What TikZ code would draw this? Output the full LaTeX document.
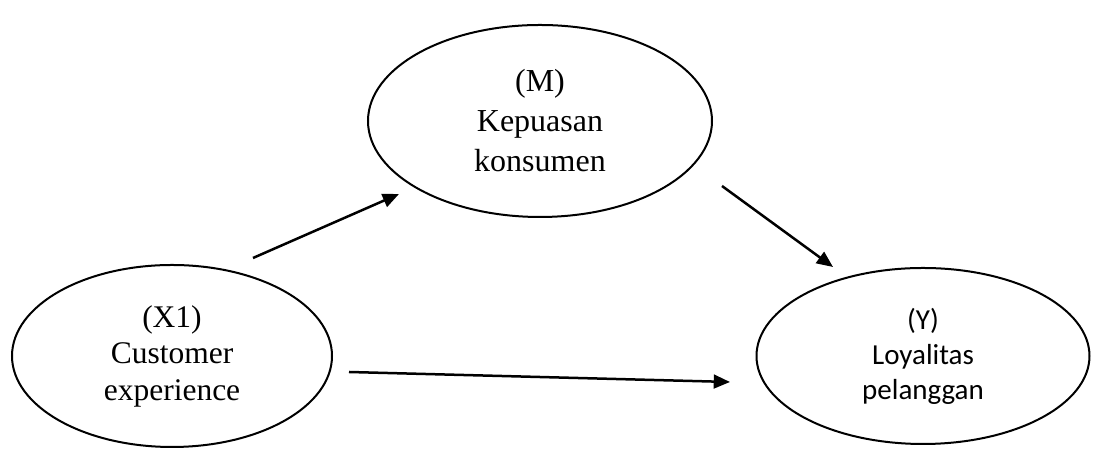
\documentclass[tikz,border=0pt]{standalone}
\usepackage{fontspec}
\setmainfont{Liberation Serif}
\newfontfamily\calib{Carlito}
\usetikzlibrary{shapes.geometric,arrows.meta}
\tikzset{
  var/.style={draw, ellipse, line width=0.8pt, inner sep=0pt, align=center},
  link/.style={line width=1pt, -{Triangle[length=6.5pt,width=5.5pt]}}
}
\begin{document}
\begin{tikzpicture}[x=0.4pt,y=-0.4pt]
\useasboundingbox (0,0) rectangle (1096,450);
\node[var, minimum width=344*0.4pt, minimum height=192*0.4pt, font=\fontsize{12.8}{16}\selectfont] (m) at (540,121) {(M)\\Kepuasan\\konsumen};
\node[var, minimum width=320*0.4pt, minimum height=182*0.4pt, font=\fontsize{12.6}{14.6}\selectfont] (x1) at (172,356) {(X1)\\Customer\\experience};
\node[var, minimum width=333*0.4pt, minimum height=176*0.4pt, font=\calib\fontsize{11.6}{14}\selectfont] (y) at (923,356) {(Y)\\Loyalitas\\pelanggan};
\coordinate (a1s) at (253,258);
\coordinate (a1e) at (399,194);
\coordinate (a2s) at (722,186);
\coordinate (a2e) at (833,267);
\coordinate (a3s) at (349,372);
\coordinate (a3e) at (730,382);
\draw[link] (a1s) -- (a1e);
\draw[link] (a2s) -- (a2e);
\draw[link] (a3s) -- (a3e);
\end{tikzpicture}
\end{document}
